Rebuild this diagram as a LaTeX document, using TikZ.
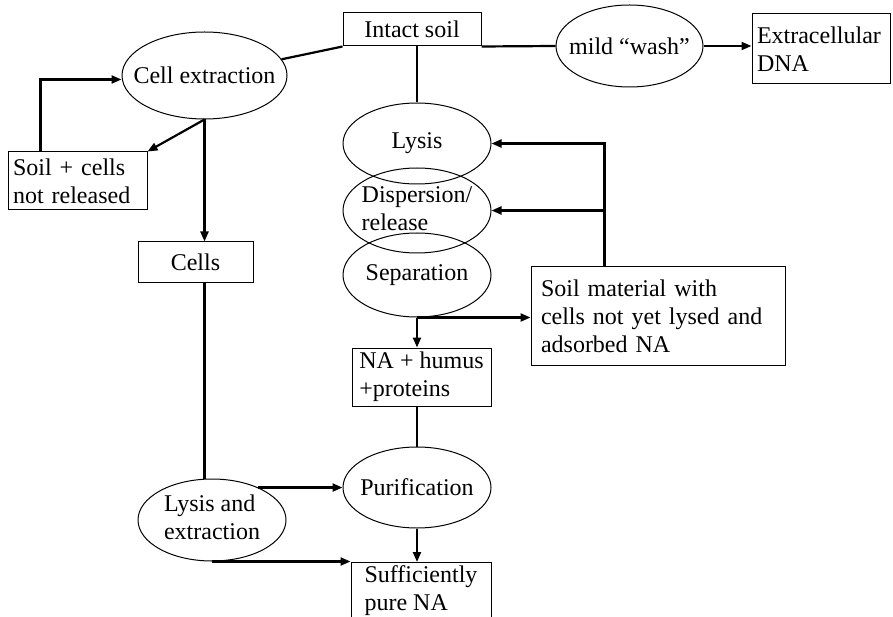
\documentclass[tikz,border=0pt]{standalone}
\usepackage{fontspec}
\setmainfont{Liberation Serif}
\usepackage{tikz}
\usetikzlibrary{shapes.geometric, arrows.meta, calc}
\tikzset{
    stage/.style={draw, ellipse, line width=1pt, inner sep=0pt, minimum width=148pt, minimum height=82pt},
    stepbox/.style={draw, rectangle, line width=1pt, inner xsep=5pt, inner ysep=3pt, align=left},
    link/.style={line width=2.2pt},
    flow/.style={link, -{Triangle[length=10pt, width=8pt]}},
}
\newcommand{\stagetext}[1]{\makebox[0pt]{#1}}

\begin{document}
\begin{tikzpicture}[x=1pt, y=-1pt, font=\fontsize{24}{28}\selectfont]
    \useasboundingbox (0,0) rectangle (893,617);

    % soil and the first steps
    \node[stepbox, align=center, inner sep=0pt, minimum width=138pt, minimum height=33pt] (intact) at (412,29.5) {Intact soil};
    \node[stage, minimum width=165pt, minimum height=87pt] (cellext) at (204.5,75.5) {\stagetext{Cell extraction}};
    \node[stage, minimum width=147pt] (wash) at (629.5,46) {\stagetext{mild “wash”}};
    \node[stepbox, text width=128pt, minimum height=70pt] (extra) at (821,49) {Extracellular\\DNA};
    \node[stepbox, text width=129pt, minimum height=58pt] (soilcells) at (77.5,181) {Soil + cells\\not released};
    \node[stepbox, align=center, minimum width=115pt, minimum height=41pt] (cells) at (195.5,262.5) {Cells};

    % direct lysis in the soil
    \node[stage, minimum height=81pt] (lysis) at (417,143.5) {\stagetext{Lysis}};
    \node[stage, minimum height=85pt] (disp) at (417,210.5) {\stagetext{\begin{tabular}{@{}l@{}}Dispersion/\\release\end{tabular}}};
    \node[stage, minimum height=84pt] (sep) at (417,275) {\stagetext{Separation}};
    \node[stepbox, inner xsep=10pt, text width=234pt, minimum height=98pt] (soilmat) at (658,316) {Soil material with\\cells not yet lysed and\\adsorbed NA};
    \node[stepbox, minimum width=139pt, minimum height=58pt] (nabox) at (421.5,377) {NA + humus\\+proteins};
    \node[stage, minimum height=81pt] (purif) at (417,487.5) {\stagetext{Purification}};
    \node[stage] (lysext) at (212,520) {\stagetext{\begin{tabular}{@{}l@{}}Lysis and\\extraction\end{tabular}}};
    \node[stepbox, anchor=north, minimum width=140pt, text depth=60pt] (suff) at (421,562) {Sufficiently\\pure NA};

    \coordinate (back) at ($(soilmat.north west)+(74,0)$);

    \draw[link] (cellext) -- (intact.south west);
    \draw[link] (intact.south east) -- (wash.west);
    \draw[flow] (wash.east) -- (wash.east -| extra.west);
    \draw[link] (lysis.north |- intact.south) -- (lysis.north);
    \draw[flow] ([xshift=33pt]soilcells.north west) |- ([yshift=-4pt]cellext.west);
    \draw[flow] (cellext.south) -- (soilcells.north east);
    \draw[flow] (cellext.south) -- (cellext.south |- cells.north);
    \draw[link] (cellext.south |- cells.south) -- (cellext.south |- lysext.north);
    \draw[flow] (back) |- (lysis.east);
    \draw[flow] (back) |- (disp.east);
    \draw[flow] (sep.south) -- (sep.south -| soilmat.west);
    \draw[flow] (sep.south) -- (sep.south |- nabox.north);
    \draw[link] (purif.north |- nabox.south) -- (purif.north);
    \draw[flow] (lysext.35) -- (lysext.35 -| purif.west);
    \draw[flow] (purif.south) -- (purif.south |- suff.north);
    \draw[flow] (lysext.south) -- (lysext.south -| suff.west);
\end{tikzpicture}
\end{document}
